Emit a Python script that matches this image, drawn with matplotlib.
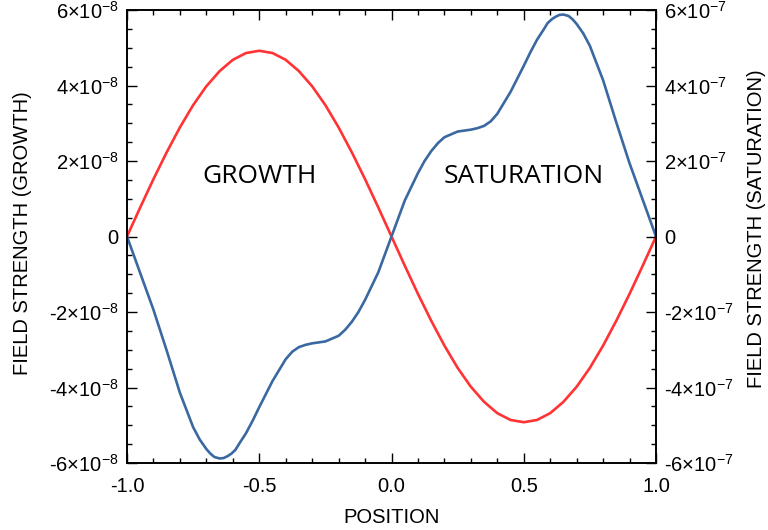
import matplotlib
matplotlib.use("Agg")
import matplotlib.pyplot as plt
from matplotlib.ticker import MultipleLocator, FuncFormatter

plt.rcParams['font.family'] = ['Liberation Sans', 'DejaVu Sans']
plt.rcParams['mathtext.fontset'] = 'custom'
plt.rcParams['mathtext.rm'] = 'Liberation Sans'
plt.rcParams['mathtext.it'] = 'Liberation Sans'

# growth field (left axis, units of 1e-8)
x_growth = [-1.0, -0.95, -0.9, -0.85, -0.8, -0.75, -0.7, -0.65, -0.6, -0.55, -0.5,
            -0.45, -0.4, -0.35, -0.3, -0.25, -0.2, -0.15, -0.1, -0.05, 0.0,
            0.05, 0.1, 0.15, 0.2, 0.25, 0.3, 0.35, 0.4, 0.45, 0.5,
            0.55, 0.6, 0.65, 0.7, 0.75, 0.8, 0.85, 0.9, 0.95, 1.0]
growth = [0.0, 0.77, 1.52, 2.23, 2.89, 3.48, 3.98, 4.38, 4.68, 4.86, 4.92,
          4.86, 4.68, 4.38, 3.98, 3.48, 2.89, 2.23, 1.52, 0.77, 0.0,
          -0.77, -1.52, -2.23, -2.89, -3.48, -3.98, -4.38, -4.68, -4.86, -4.92,
          -4.86, -4.68, -4.38, -3.98, -3.48, -2.89, -2.23, -1.52, -0.77, 0.0]

# saturation field (right axis, units of 1e-7)
x_sat = [-1.0, -0.95, -0.9, -0.85, -0.8, -0.75, -0.725, -0.7, -0.685, -0.67, -0.65,
         -0.635, -0.62, -0.605, -0.59, -0.575, -0.55, -0.525, -0.5, -0.45, -0.4,
         -0.375, -0.35, -0.325, -0.3, -0.25, -0.2, -0.175, -0.15, -0.125, -0.1, -0.05, 0.0,
         0.05, 0.1, 0.125, 0.15, 0.175, 0.2, 0.25, 0.3, 0.325, 0.35, 0.375,
         0.4, 0.45, 0.5, 0.525, 0.55, 0.575, 0.59, 0.605, 0.62, 0.635,
         0.65, 0.67, 0.685, 0.7, 0.725, 0.75, 0.8, 0.85, 0.9, 0.95, 1.0]
saturation = [0.0, -0.97, -1.94, -3.02, -4.14, -5.05, -5.38, -5.63, -5.75, -5.84, -5.88,
              -5.87, -5.82, -5.75, -5.65, -5.48, -5.21, -4.88, -4.52, -3.83, -3.25,
              -3.05, -2.93, -2.87, -2.83, -2.78, -2.63, -2.47, -2.26, -2.0, -1.68, -0.95, 0.0,
              0.95, 1.68, 2.0, 2.26, 2.47, 2.63, 2.78, 2.83, 2.87, 2.93, 3.05,
              3.25, 3.83, 4.52, 4.88, 5.21, 5.48, 5.65, 5.75, 5.82, 5.87,
              5.88, 5.84, 5.75, 5.63, 5.38, 5.05, 4.14, 3.02, 1.94, 0.97, 0.0]


def sci_fmt(exp):
    def f(v, pos):
        m = int(round(v))
        if m == 0:
            return '0'
        return '%d×10$^{%d}$' % (m, exp)
    return f


fig = plt.figure(figsize=(7.68, 5.30), dpi=100)
ax = fig.add_axes([127/768, 67/530, 529/768, 453/530])
ax2 = ax.twinx()

ax.plot(x_growth, growth, color='#ff3333', lw=1.9)
ax2.plot(x_sat, saturation, color='#3a68a0', lw=1.9)

ax.set_xlim(-1, 1)
ax.set_ylim(-6, 6)
ax2.set_ylim(-6, 6)

ax.xaxis.set_major_locator(MultipleLocator(0.5))
ax.xaxis.set_minor_locator(MultipleLocator(0.1))
ax.xaxis.set_major_formatter(FuncFormatter(lambda v, p: '%.1f' % v))
for a, e in ((ax, -8), (ax2, -7)):
    a.yaxis.set_major_locator(MultipleLocator(2))
    a.yaxis.set_minor_locator(MultipleLocator(0.5))
    a.yaxis.set_major_formatter(FuncFormatter(sci_fmt(e)))

ax.tick_params(which='both', direction='in', top=True, right=False, labelsize=14.5)
ax.tick_params(which='major', length=7, width=1)
ax.tick_params(which='minor', length=3.6, width=1)
ax2.tick_params(which='both', direction='in', labelsize=14.5)
ax2.tick_params(which='major', length=7, width=1)
ax2.tick_params(which='minor', length=3.6, width=1)
ax.tick_params(axis='x', pad=10)
ax.tick_params(axis='y', pad=6)
ax2.tick_params(axis='y', pad=6)

for a in (ax, ax2):
    for s in a.spines.values():
        s.set_linewidth(1.2)

ax.set_xlabel('POSITION', fontsize=14.5, labelpad=9)
fig.text(23/768, 1 - 233/530, 'FIELD STRENGTH (GROWTH)', rotation=90,
         ha='center', va='center', fontsize=14.5)
fig.text(756/768, 1 - 229/530, 'FIELD STRENGTH (SATURATION)', rotation=90,
         ha='center', va='center', fontsize=14.5)

ax.text(-0.5, 1.6, 'GROWTH', ha='center', va='center', fontsize=19, family='Open Sans')
ax2.text(0.5, 1.6, 'SATURATION', ha='center', va='center', fontsize=19, family='Open Sans')

fig.savefig('out.png', dpi=100)
